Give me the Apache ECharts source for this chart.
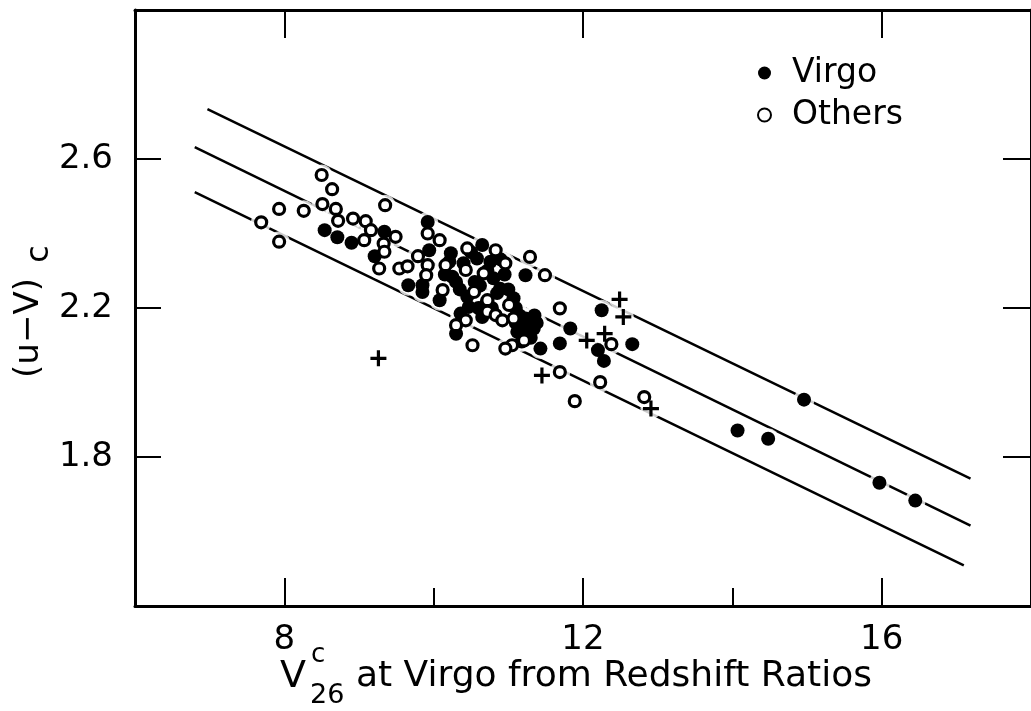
<!DOCTYPE html>
<html>
<head>
<meta charset="utf-8">
<script src="https://cdn.jsdelivr.net/npm/echarts@6/dist/echarts.min.js"></script>
<style>
html, body { margin: 0; padding: 0; background: #fff; }
#graph { width: 1031px; height: 711px; }
</style>
</head>
<body>
<div id="graph"></div>
<script>
// galaxies in the Virgo cluster (filled dots)
const virgo = [
    [8.54, 2.409], [8.71, 2.39], [8.90, 2.375], [9.34, 2.405], [9.21, 2.339],
    [9.66, 2.261], [9.92, 2.431], [9.94, 2.355], [9.85, 2.261], [9.85, 2.243],
    [10.08, 2.221], [10.23, 2.347], [10.21, 2.324], [10.25, 2.284], [10.65, 2.369],
    [10.58, 2.333], [10.76, 2.324], [10.89, 2.252], [10.47, 2.203], [10.36, 2.185],
    [10.30, 2.131], [10.65, 2.176], [10.55, 2.27], [10.80, 2.28], [10.90, 2.33],
    [10.70, 2.21], [10.95, 2.29], [11.07, 2.226], [11.23, 2.172], [11.29, 2.163],
    [11.12, 2.136], [11.34, 2.145], [11.20, 2.15], [11.30, 2.12], [11.15, 2.18],
    [11.35, 2.18], [11.43, 2.091], [11.23, 2.288], [11.83, 2.145], [11.69, 2.105],
    [12.25, 2.194], [12.20, 2.087], [12.28, 2.058], [12.66, 2.103],
    [10.35, 2.25], [10.40, 2.32], [10.50, 2.35], [10.62, 2.26], [10.72, 2.30],
    [10.85, 2.24], [10.30, 2.27], [10.15, 2.29], [10.45, 2.23], [10.60, 2.20],
    [10.78, 2.20], [11.00, 2.25], [11.10, 2.20], [11.18, 2.11], [11.25, 2.14],
    [11.38, 2.16], [11.10, 2.16],
    [14.96, 1.954], [14.07, 1.871], [14.48, 1.849], [15.97, 1.731], [16.45, 1.683]
];

// other galaxies (open circles)
const others = [
    [8.50, 2.557], [8.64, 2.519], [7.93, 2.466], [8.26, 2.461], [8.51, 2.479],
    [8.69, 2.466], [8.72, 2.434], [8.92, 2.44], [9.09, 2.433], [9.16, 2.409],
    [7.69, 2.43], [7.93, 2.378], [9.07, 2.382], [9.35, 2.476], [9.33, 2.373],
    [9.49, 2.391], [9.34, 2.351], [9.27, 2.306], [9.54, 2.306], [9.65, 2.312],
    [9.92, 2.40], [9.79, 2.339], [9.92, 2.315], [9.90, 2.288], [10.08, 2.382],
    [10.12, 2.248], [10.16, 2.315], [10.45, 2.36], [10.83, 2.355], [10.43, 2.302],
    [10.67, 2.293], [10.96, 2.32], [10.54, 2.243], [10.72, 2.221], [10.43, 2.167],
    [10.30, 2.154], [10.52, 2.10], [10.72, 2.19], [10.83, 2.181], [10.92, 2.167],
    [11.01, 2.208], [11.07, 2.172], [11.05, 2.10], [10.96, 2.091], [11.21, 2.113],
    [11.29, 2.337], [11.49, 2.288], [11.69, 2.199], [11.69, 2.028], [12.38, 2.103],
    [12.23, 2.001], [11.89, 1.95], [12.82, 1.961]
];

// crosses
const crosses = [
    [11.45, 2.019], [12.05, 2.113], [12.49, 2.223], [12.54, 2.176],
    [12.29, 2.131], [12.91, 1.93], [9.26, 2.065]
];

// the three parallel lines (end points)
const lineUpper = [[6.97, 2.734], [17.19, 1.742]];
const lineMiddle = [[6.80, 2.632], [17.19, 1.616]];
const lineLower = [[6.80, 2.511], [17.10, 1.509]];

const xMajorTicks = [8, 12, 16];
const xMinorTicks = [10, 14];
const yTicks = [1.8, 2.2, 2.6];

const FONT = 'DejaVu Sans';
const plusPath = 'path://M4,0H6V4H10V6H6V10H4V6H0V4H4Z';

const chartDom = document.getElementById('graph');
const myChart = echarts.init(chartDom);

function fitLine(data) {
    return {
        type: 'line',
        data: data,
        showSymbol: false,
        silent: true,
        z: 1,
        lineStyle: { color: '#000', width: 2.5 }
    };
}

const option = {
    animation: false,
    backgroundColor: '#fff',
    grid: { left: 135, right: -3, top: 10, bottom: 105 },
    legend: {
        data: ['Virgo', 'Others'],
        orient: 'vertical',
        left: 752,
        top: 51,
        itemWidth: 13,
        itemHeight: 13,
        itemGap: 8,
        textStyle: {
            fontFamily: FONT, fontSize: 33, color: '#000',
            lineHeight: 34, padding: [0, 0, 0, 16]
        }
    },
    xAxis: [
        {
            type: 'value', min: 6, max: 18, position: 'bottom',
            splitLine: { show: false },
            axisLine: { lineStyle: { color: '#000', width: 3 } },
            axisTick: { inside: true, length: 28, customValues: xMajorTicks,
                lineStyle: { color: '#000', width: 2 } },
            axisLabel: { customValues: xMajorTicks, margin: 17,
                fontFamily: FONT, fontSize: 34, color: '#000' }
        },
        {
            type: 'value', min: 6, max: 18, position: 'bottom',
            splitLine: { show: false },
            axisLine: { show: false },
            axisTick: { inside: true, length: 18, customValues: xMinorTicks,
                lineStyle: { color: '#000', width: 2 } },
            axisLabel: { show: false }
        },
        {
            type: 'value', min: 6, max: 18, position: 'top',
            splitLine: { show: false },
            axisLine: { lineStyle: { color: '#000', width: 3 } },
            axisTick: { inside: true, length: 28, customValues: xMajorTicks,
                lineStyle: { color: '#000', width: 2 } },
            axisLabel: { show: false }
        }
    ],
    yAxis: [
        {
            type: 'value', min: 1.4, max: 3.0, position: 'left',
            splitLine: { show: false },
            axisLine: { lineStyle: { color: '#000', width: 3 } },
            axisTick: { inside: true, length: 26, customValues: yTicks,
                lineStyle: { color: '#000', width: 2 } },
            axisLabel: { customValues: yTicks, margin: 22,
                formatter: v => v.toFixed(1),
                fontFamily: FONT, fontSize: 34, color: '#000' }
        },
        {
            type: 'value', min: 1.4, max: 3.0, position: 'right',
            splitLine: { show: false },
            axisLine: { lineStyle: { color: '#000', width: 3 } },
            axisTick: { inside: true, length: 28, customValues: yTicks,
                lineStyle: { color: '#000', width: 2 } },
            axisLabel: { show: false }
        }
    ],
    graphic: [
        { type: 'text', x: 29, y: 328, rotation: Math.PI / 2,
          style: { text: '(u\u2212V)', font: '34px "DejaVu Sans"', fill: '#000',
                   align: 'center', verticalAlign: 'middle' } },
        { type: 'text', x: 40, y: 254, rotation: Math.PI / 2,
          style: { text: 'c', font: '32px "DejaVu Sans"', fill: '#000',
                   align: 'center', verticalAlign: 'middle' } },
        { type: 'text', x: 280, y: 696,
          style: { text: 'V', font: '38px "DejaVu Sans"', fill: '#000',
                   align: 'left', verticalAlign: 'bottom' } },
        { type: 'text', x: 311, y: 668,
          style: { text: 'c', font: '26px "DejaVu Sans"', fill: '#000',
                   align: 'left', verticalAlign: 'bottom' } },
        { type: 'text', x: 310, y: 709,
          style: { text: '26', font: '27px "DejaVu Sans"', fill: '#000',
                   align: 'left', verticalAlign: 'bottom' } },
        { type: 'text', x: 356, y: 695,
          style: { text: 'at Virgo from Redshift Ratios', font: '36px "DejaVu Sans"', fill: '#000',
                   align: 'left', verticalAlign: 'bottom' } }
    ],
    series: [
        fitLine(lineUpper),
        fitLine(lineMiddle),
        fitLine(lineLower),
        {
            // white halo that breaks the lines around each marker
            type: 'scatter',
            data: virgo.concat(others, crosses),
            symbolSize: 21,
            silent: true,
            z: 2,
            itemStyle: { color: '#fff' }
        },
        {
            name: 'Virgo',
            type: 'scatter',
            data: virgo,
            symbol: 'circle',
            symbolSize: 14,
            z: 3,
            itemStyle: { color: '#000', opacity: 1 }
        },
        {
            name: 'Others',
            type: 'scatter',
            data: others,
            symbol: 'circle',
            symbolSize: 11,
            z: 4,
            itemStyle: { color: '#fff', borderColor: '#000', borderWidth: 3.2, opacity: 1 }
        },
        {
            name: 'Crosses',
            type: 'scatter',
            data: crosses,
            symbol: plusPath,
            symbolSize: 16,
            z: 4,
            itemStyle: { color: '#000', opacity: 1 }
        }
    ]
};

option && myChart.setOption(option);
</script>
</body>
</html>
